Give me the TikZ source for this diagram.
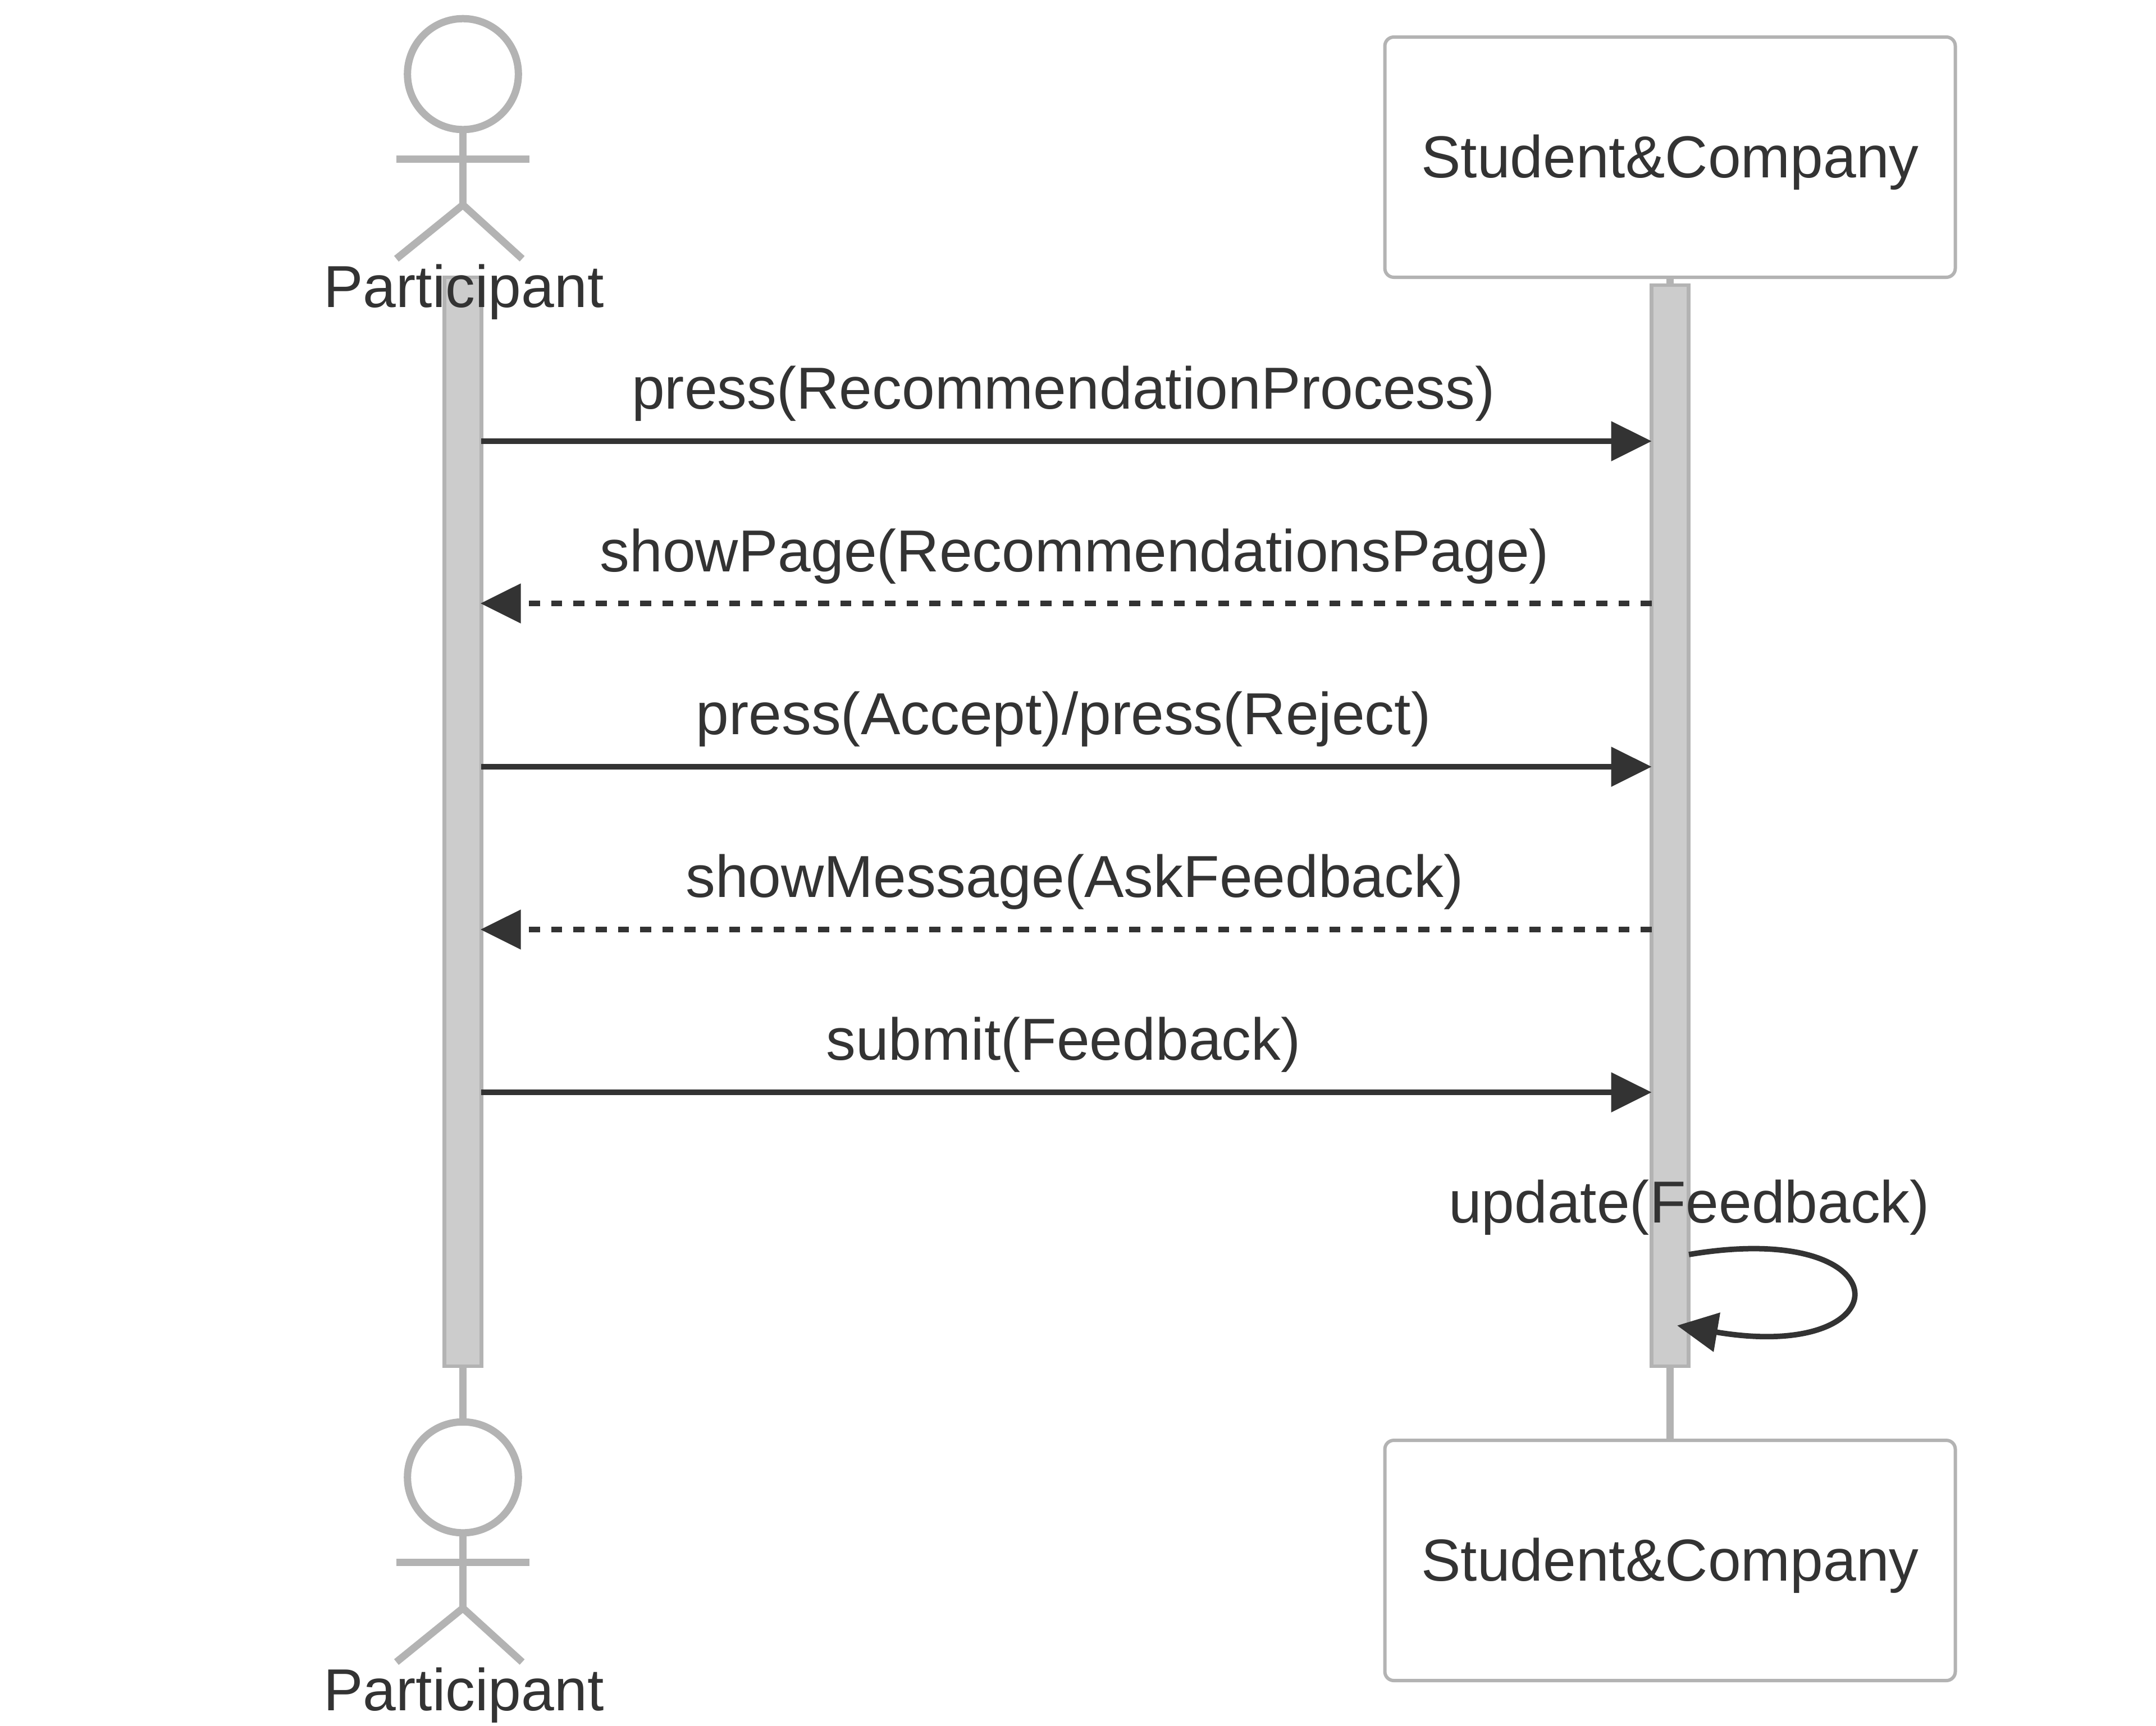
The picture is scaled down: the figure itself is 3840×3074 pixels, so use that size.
\documentclass[tikz,border=0pt]{standalone}
\usepackage{fontspec}
\setmainfont{Liberation Sans}
\usetikzlibrary{arrows.meta}
\definecolor{ink}{HTML}{333333}
\definecolor{edge}{HTML}{B3B3B3}
\definecolor{actfill}{HTML}{CCCCCC}
\tikzset{
  lab/.style={anchor=base,inner sep=0pt,outer sep=0pt,text=ink,font=\fontsize{26.4}{31}\selectfont},
  fig/.style={draw=edge,line width=3.25pt},
  life/.style={draw=edge,line width=3.25pt},
  headc/.style={circle,draw=edge,line width=3.25pt,fill=white,minimum size=49.4pt,inner sep=0pt,outer sep=0pt},
  bar/.style={rectangle,draw=edge,fill=actfill,line width=1.625pt,minimum width=16.4pt,inner sep=0pt,outer sep=0pt},
  sysbox/.style={rectangle,rounded corners=4pt,draw=edge,fill=white,line width=1.5pt,minimum width=254pt,minimum height=107pt,inner sep=0pt,outer sep=0pt,text=ink,font=\fontsize{26.4}{31}\selectfont,text depth=0pt,text height=18.4pt},
  msg/.style={draw=ink,line width=2.44pt,-{Triangle[length=18pt,width=17.2pt,fill=ink]}},
  rep/.style={msg,dash pattern=on 4.9pt off 5pt,shorten >=-0.4pt},
}
\begin{document}
\begin{tikzpicture}[x=0.25pt,y=-0.25pt]
\useasboundingbox (0,0) rectangle (3840,3074);
\fill[white] (0,0) rectangle (3840,3074);
% positions of the message rows
\coordinate (m1) at (0,786);
\coordinate (m2) at (0,1075);
\coordinate (m3) at (0,1366);
\coordinate (m4) at (0,1656);
\coordinate (m5) at (0,1946);
% top participant box and bottom participant box
\node[sysbox] (boxt) at (2974.5,280) {Student\&Company};
\node[sysbox] (boxb) at (2974.5,2780) {Student\&Company};
% actor heads
\node[headc] (heada) at (824.5,132) {};
\node[headc] (headb) at (824.5,2632) {};
% activation bars
\node[bar,minimum height=485pt] (pa) at (824.5,1464) {};
\node[bar,minimum height=481.5pt] (pb) at (2974.5,1471) {};
% lifelines
\draw[life] (boxt.south) -- (pb.north);
\draw[life] (pb.south) -- (boxb.north);
\draw[life] (pa.south) -- (headb.south |- 0,2530);
% top actor figure
\begin{scope}
\draw[fig] (heada.south) -- (824.5,365);
\draw[fig] (706,283.5) -- (943,283.5);
\draw[fig] (706,461) -- (824.5,365) -- (930,461);
\end{scope}
\node[lab] (ta) at (826,547) {Participant};
% bottom actor figure
\begin{scope}[shift={(0,2500)}]
\draw[fig] (headb.south) -- (824.5,365);
\draw[fig] (706,283.5) -- (943,283.5);
\draw[fig] (706,461) -- (824.5,365) -- (930,461);
\end{scope}
\node[lab] (tb) at (826,3047) {Participant};
% messages
\draw[msg] (pa.east |- m1) -- (pb.west |- m1);
\node[lab] (l1) at (1894,728) {press(RecommendationProcess)};
\draw[rep] (pb.west |- m2) -- (pa.east |- m2);
\node[lab] (l2) at (1914,1018) {showPage(RecommendationsPage)};
\draw[msg] (pa.east |- m3) -- (pb.west |- m3);
\node[lab] (l3) at (1894,1308) {press(Accept)/press(Reject)};
\draw[rep] (pb.west |- m4) -- (pa.east |- m4);
\node[lab] (l4) at (1914,1598) {showMessage(AskFeedback)};
\draw[msg] (pa.east |- m5) -- (pb.west |- m5);
\node[lab] (l5) at (1894,1888) {submit(Feedback)};
% self message
\coordinate (selfa) at (3008,2235);
\coordinate (selfb) at (2987,2361.5);
\draw[msg] (selfa) .. controls (3394,2170) and (3394,2430) .. (selfb);
\node[lab] (l6) at (3008.5,2178) {update(Feedback)};
\end{tikzpicture}
\end{document}
